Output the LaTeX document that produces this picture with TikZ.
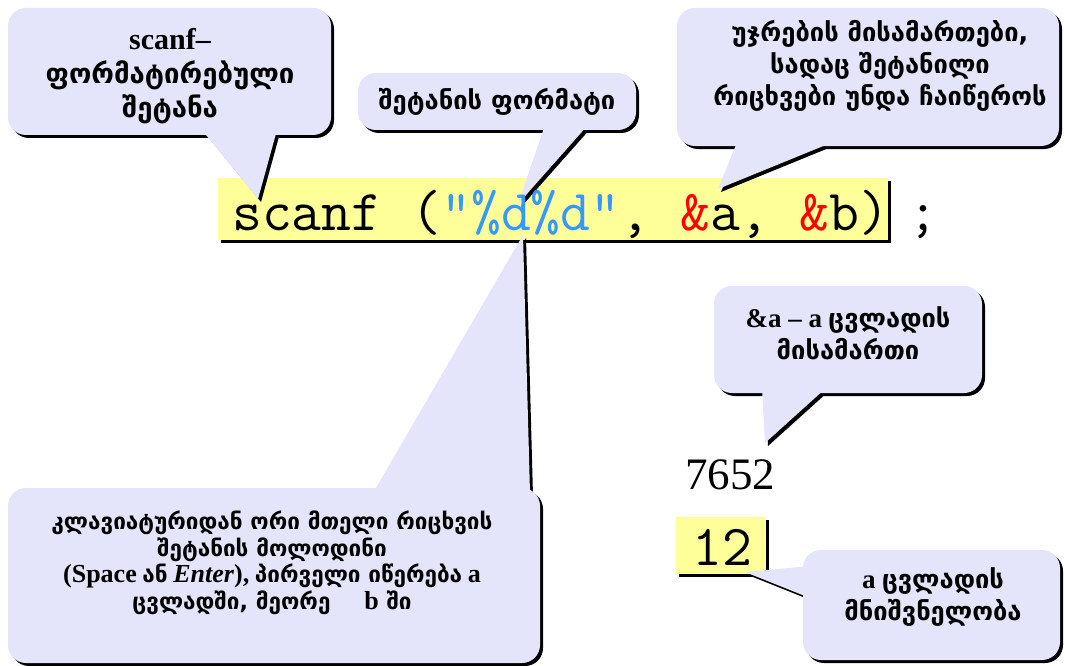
\documentclass[tikz,border=0pt]{standalone}
\usepackage{fontspec}
\setmainfont{Liberation Serif}
\newfontfamily\geo{DejaVu Sans}
\definecolor{callfill}{RGB}{228,228,250}
\definecolor{codefill}{RGB}{255,255,153}
\definecolor{fmtblue}{RGB}{51,153,255}
\definecolor{ampred}{RGB}{255,0,0}
% speech balloon: corner, opposite corner, pointer triangle; hard black shadow below-right
\newcommand\balloon[3]{%
  \begin{scope}[transform canvas={xshift=3pt,yshift=-3pt}]
    \fill[black,rounded corners=18] (#1) rectangle (#2);
    \fill[black] #3;
  \end{scope}
  \fill[callfill,rounded corners=18] (#1) rectangle (#2);
  \fill[callfill] #3;}
% yellow highlight with the same shadow
\newcommand\hilite[2]{%
  \fill[black,transform canvas={xshift=3pt,yshift=-3pt}] (#1) rectangle (#2);
  \fill[codefill] (#1) rectangle (#2);}
% larger Latin words inside the Georgian notes
\newcommand\lat[1]{{\fontsize{26}{26.5}\selectfont #1}}
\begin{document}
\begin{tikzpicture}[x=1pt,y=-1pt,
  note/.style={align=center,inner sep=0pt},
  big/.style={font=\fontsize{27.5}{34}\selectfont\bfseries},
  mid/.style={font=\fontsize{25.5}{32}\selectfont\bfseries},
  small/.style={font=\fontsize{22.5}{26.5}\selectfont\bfseries},
  codefont/.style={font=\fontsize{58}{62}\ttfamily}]
\fill[white] (0,0) rectangle (1065,666);
\useasboundingbox (0,0) rectangle (1065,666);

% pointer tips
\coordinate (tipScanf) at (258,199);
\coordinate (tipFmt)   at (518,204);
\coordinate (tipAddr)  at (718,189);
\coordinate (tipWait)  at (523,235);
\coordinate (tipA)     at (765,443);
\coordinate (tipVal)   at (745,572);

% highlighted statement and value
\hilite{218,178}{888,240}
\hilite{676,517}{766,574}

% balloons
\balloon{8,8}{331,135}{(202,130) -- (tipScanf) -- (277,130) -- cycle}
\balloon{358,73}{636,130}{(545,125) -- (tipFmt) -- (588,125) -- cycle}
\balloon{677,8}{1059,146}{(738,140) -- (tipAddr) -- (838,140) -- cycle}
\balloon{8,488}{540,663}{(373,493) -- (tipWait) -- (530,493) -- cycle}
\balloon{714,286}{982,393}{(762,388) -- (tipA) -- (826,388) -- cycle}
\balloon{803,550}{1060,660}{(810,566) -- (tipVal) -- (810,598) -- cycle}

% code and values
\node[codefont,anchor=base west,inner sep=0pt] (code) at (232,230)
  {scanf (\textcolor{fmtblue}{"\%d\%d"}, \textcolor{ampred}{\&}a, \textcolor{ampred}{\&}b)\hspace{0.33em};};
\node[codefont,anchor=base,inner sep=0pt] (twelve) at (722,565) {12};
\node[font=\fontsize{45}{50}\selectfont,anchor=base,inner sep=0pt] (input) at (730,489) {7652};

% balloon texts
\node[note,big] (scanfNote) at (170,76)
  {{\fontsize{30}{34}\selectfont scanf–}\\ {\geo ფორმატირებული}\\ {\geo შეტანა}};
\node[note,mid] (fmtNote) at (497,102) {\geo შეტანის ფორმატი};
\node[note,mid] (addrNote) at (880,66)
  {\geo უჯრების მისამართები,\\ \geo სადაც შეტანილი\\ \geo რიცხვები უნდა ჩაიწეროს};
\node[note,small] (waitNote) at (272,563)
  {\geo კლავიატურიდან ორი მთელი რიცხვის\\
   \geo შეტანის მოლოდინი\\
   \lat{(Space} {\geo ან} \lat{\textit{Enter}),} {\geo პირველი იწერება} \lat{a}\\
   \geo ცვლადში, მეორე\hspace{1.5em}\lat{\textrm{b}} ში};
\node[note,mid] (aNote) at (848,333)
  {{\fontsize{27}{32}\selectfont\&a – a} {\geo ცვლადის}\\ \geo მისამართი};
\node[note,mid] (valNote) at (933,597)
  {{\fontsize{27}{32}\selectfont a} {\geo ცვლადის}\\ \geo მნიშვნელობა};
\end{tikzpicture}
\end{document}
